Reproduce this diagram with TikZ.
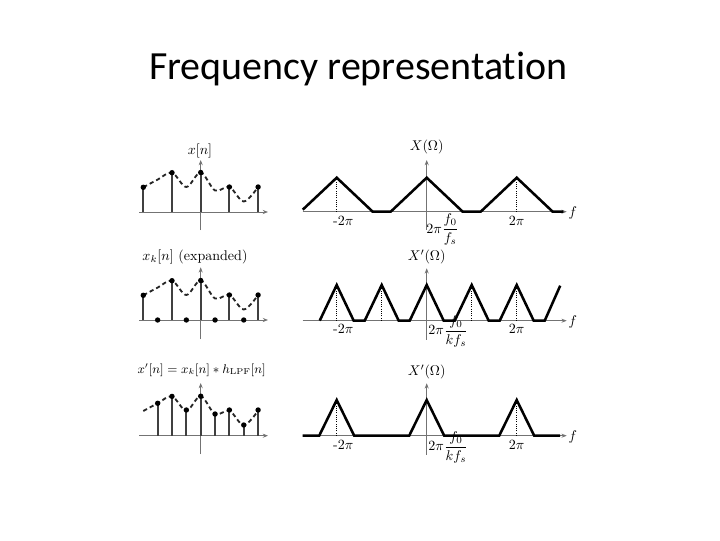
\documentclass[tikz,border=0pt]{standalone}
\usepackage{amsmath}
\usepackage{fontspec}
\newfontfamily\titlefont[Ligatures={NoCommon}]{Carlito}
\usetikzlibrary{arrows.meta,positioning}
\tikzset{axis/.style={draw=black!55,line width=0.6pt,-{Stealth[length=1.3mm,width=1mm]}},stem/.style={draw=black!75,line width=1.3pt},envelope/.style={draw=black!85,line width=1.3pt,dash pattern=on 3pt off 2.2pt},spectrum/.style={draw=black,line width=1.8pt,line join=miter},guide/.style={draw=black,densely dotted,line width=0.6pt},tick/.style={font=\normalsize,inner sep=1pt},head/.style={font=\normalsize,inner sep=1pt},pics/envcurve/.style={code={\draw[envelope] plot[smooth,tension=0.55] coordinates {(-57.4,24.7) (-43.05,32.4) (-28.7,39.3) (-14.35,25) (0,39.5) (14.35,21.5) (28.7,25) (43.05,10.5) (57.4,25)};}}}

\begin{document}
\begin{tikzpicture}[x=0.025cm,y=0.025cm]
\fill[white] (0,0) rectangle (720,540);
\path[use as bounding box] (0,0) rectangle (720,540);
\node[font=\titlefont\fontsize{28.4}{34}\selectfont,anchor=base,inner sep=0pt] (title) at (358.3,460.7) {Frequency representation};

% time domain
\begin{scope}[shift={(200.7,328)}]
\draw[axis] (-61.7,0) -- (67.3,0);
\draw[axis] (0,-18) -- (0,52);
\pic {envcurve};
\foreach \x/\h in {-57.4/24.7,-28.7/39.3,0/39.5,28.7/25,57.4/25}{\draw[stem] (\x,0) -- (\x,\h); \fill (\x,\h) circle[radius=2.7];}
\node[head] (xn) at (-0.7,61.3) {$x[n]$};
\end{scope}
\begin{scope}[shift={(200.7,220)}]
\draw[axis] (-61.7,0) -- (67.3,0);
\draw[axis] (0,-19) -- (0,52.7);
\pic {envcurve};
\foreach \x/\h in {-57.4/24.7,-28.7/39.3,0/39.5,28.7/25,57.4/25}{\draw[stem] (\x,0) -- (\x,\h); \fill (\x,\h) circle[radius=2.7];}
\foreach \x in {-43.05,-14.35,14.35,43.05}{\fill (\x,0) circle[radius=2.7];}
\node[head] (xk) at (-5.7,63.3) {$x_k[n]$ (expanded)};
\end{scope}
\begin{scope}[shift={(200.7,104.3)}]
\draw[axis] (-61.7,0) -- (67.3,0);
\draw[axis] (0,-18.3) -- (0,52.7);
\pic {envcurve};
\foreach \x/\h in {-43.05/32.4,-28.7/39.3,-14.35/25.7,0/39.5,14.35/21.7,28.7/25.7,43.05/10.7,57.4/25.7}{\draw[stem] (\x,0) -- (\x,\h); \fill (\x,\h) circle[radius=2.7];}
\node[head,font=\fontsize{8.7}{10}\selectfont] (xi) at (1,65.7) {$x'[n]=x_k[n]*h_{\mathrm{LPF}}[n]$};
\end{scope}

% frequency domain
\begin{scope}[shift={(426.7,328.3)}]
\draw[axis] (-124,0) -- (140,0);
\draw[axis] (0,-18.3) -- (0,51.7);
\foreach \p in {-90,90}{\draw[guide] (\p,0) -- (\p,34);}
\draw[spectrum] (-124,2) -- (-90,34) -- (-54,0) -- (-36,0) -- (0,34) -- (36,0) -- (54,0) -- (90,34) -- (126,0) -- (136.6,0);
\node[head] (X) at (0,65) {$X(\Omega)$};
\node[head] (f1) at (146,-1) {$f$};
\node[tick] (m1) at (-83.4,-9) {-$2\pi$};
\node[tick] (p1) at (90,-9) {$2\pi$};
\node[tick,anchor=west] (r1) at (-2,-18) {$2\pi\dfrac{f_0}{f_s}$};
\end{scope}
\begin{scope}[shift={(426.7,219.3)}]
\draw[axis] (-124,0) -- (140,0);
\draw[axis] (0,-19) -- (0,52.4);
\foreach \p in {-90,-45,45,90}{\draw[guide] (\p,0) -- (\p,35.7);}
\draw[spectrum] (-107,0) \foreach \p in {-90,-45,...,90}{ -- (\p,35.7) -- ({\p+17},0) -- ({\p+28},0)} -- (133.5,35);
\node[head] (X1) at (0,64) {$X'(\Omega)$};
\node[head] (f2) at (146,-1) {$f$};
\node[tick] (m2) at (-83.4,-8.6) {-$2\pi$};
\node[tick] (p2) at (90,-8.6) {$2\pi$};
\node[tick,anchor=west] (r2) at (0,-10.5) {$2\pi\dfrac{f_0}{k f_s}$};
\end{scope}
\begin{scope}[shift={(426.7,104.3)}]
\draw[axis] (-124,0) -- (140,0);
\draw[axis] (0,-19) -- (0,52.4);
\foreach \p in {-90,90}{\draw[guide] (\p,0) -- (\p,35.7);}
\draw[spectrum] (-124,0) -- (-107.5,0) -- (-90,35.7) -- (-72.5,0) -- (-17.5,0) -- (0,35.7) -- (17.5,0) -- (72.5,0) -- (90,35.7) -- (107.5,0) -- (133.3,0);
\node[head] (X2) at (0,64) {$X'(\Omega)$};
\node[head] (f3) at (146,-1) {$f$};
\node[tick] (m3) at (-83.4,-9.3) {-$2\pi$};
\node[tick] (p3) at (90,-9.3) {$2\pi$};
\node[tick,anchor=west] (r3) at (0,-11.5) {$2\pi\dfrac{f_0}{k f_s}$};
\end{scope}
\end{tikzpicture}
\end{document}
